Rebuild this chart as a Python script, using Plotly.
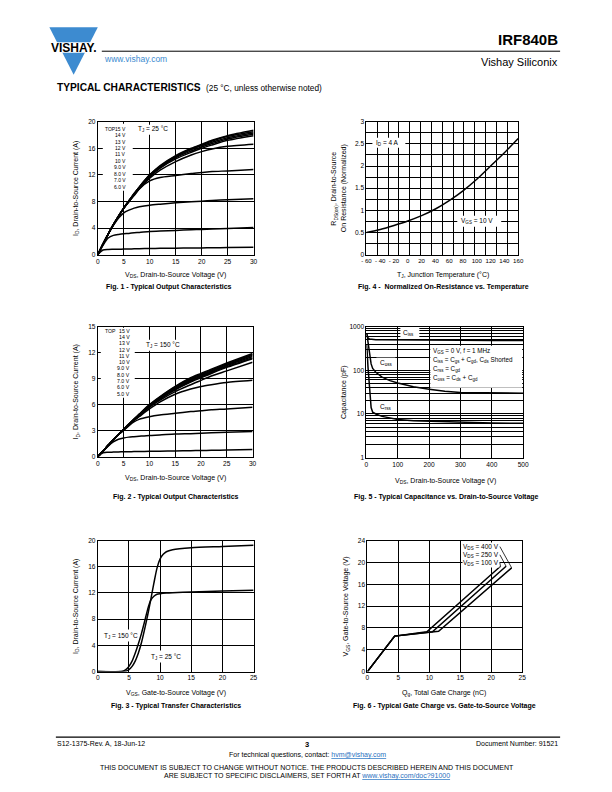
import plotly.graph_objects as go

# Page-to-figure mapping. The page body adds an 8 px margin; the captured
# picture came out slightly shrunk, so positions are corrected linearly.
OFF = 8
W, H = 612 - 2 * OFF, 792 - 2 * OFF
SX, CX = 0.983, 3.2
SY, CY = 0.9912, 4.35
FONT = "Liberation Sans, Arial, sans-serif"
BLUE = "#3d8bd0"


def px(x):
    return ((x - CX) / SX - OFF) / W


def py(y):
    return 1 - ((y - CY) / SY - OFF) / H


# ---------------- DATA ----------------
# Fig. 1 - output characteristics, TJ = 25 C
f1_vds = [0, 1, 2, 3, 4, 5, 6, 7, 8, 10, 12, 15, 18, 20, 22, 25, 30]
f1_vgs_labels = ["15 V", "14 V", "13 V", "12 V", "11 V", "10 V", "9.0 V", "8.0 V", "7.0 V", "6.0 V"]
f1_15v = [0, 1.6, 3.1, 4.5, 5.8, 7.0, 8.1, 9.2, 10.2, 12.0, 13.4, 14.9, 16.0, 16.6, 17.2, 17.9, 18.7]
f1_14v = [0, 1.6, 3.1, 4.5, 5.8, 7.0, 8.1, 9.2, 10.2, 12.0, 13.3, 14.8, 15.9, 16.5, 17.1, 17.8, 18.5]
f1_13v = [0, 1.6, 3.1, 4.5, 5.8, 7.0, 8.1, 9.1, 10.1, 11.9, 13.2, 14.7, 15.8, 16.4, 16.9, 17.6, 18.3]
f1_12v = [0, 1.6, 3.1, 4.5, 5.8, 7.0, 8.1, 9.1, 10.1, 11.8, 13.1, 14.6, 15.6, 16.2, 16.7, 17.4, 18.1]
f1_11v = [0, 1.6, 3.1, 4.5, 5.8, 7.0, 8.0, 9.0, 10.0, 11.7, 13.0, 14.4, 15.4, 16.0, 16.5, 17.2, 17.9]
f1_10v = [0, 1.6, 3.1, 4.5, 5.8, 7.0, 8.0, 9.0, 9.9, 11.5, 12.7, 14.0, 15.0, 15.5, 15.9, 16.3, 16.6]
f1_9v = [0, 1.6, 3.1, 4.5, 5.8, 7.0, 8.0, 8.9, 9.9, 11.1, 11.6, 11.9, 12.2, 12.35, 12.5, 12.6, 12.8]
f1_8v = [0, 1.6, 3.1, 4.4, 5.5, 6.3, 6.7, 7.0, 7.2, 7.45, 7.6, 7.8, 7.95, 8.05, 8.15, 8.25, 8.4]
f1_7v = [0, 1.4, 2.5, 2.9, 3.05, 3.15, 3.2, 3.3, 3.35, 3.5, 3.55, 3.65, 3.75, 3.8, 3.85, 3.95, 4.1]
f1_6v = [0, 0.7, 0.78, 0.8, 0.82, 0.84, 0.86, 0.88, 0.9, 0.92, 0.95, 0.98, 1.0, 1.02, 1.04, 1.07, 1.12]

# Fig. 2 - output characteristics, TJ = 150 C
f2_vds = [0, 1, 2, 3, 4, 5, 6, 7, 8, 10, 12, 15, 18, 20, 22, 25, 30]
f2_vgs_labels = ["15 V", "14 V", "13 V", "12 V", "11 V", "10 V", "9.0 V", "8.0 V", "7.0 V", "6.0 V", "5.0 V"]
f2_15v = [0, 0.65, 1.3, 1.95, 2.55, 3.15, 3.75, 4.35, 4.9, 6.0, 6.9, 8.1, 9.1, 9.6, 10.1, 10.8, 11.9]
f2_14v = [0, 0.65, 1.3, 1.95, 2.55, 3.15, 3.75, 4.3, 4.85, 5.95, 6.85, 8.05, 9.0, 9.5, 10.0, 10.7, 11.8]
f2_13v = [0, 0.65, 1.3, 1.95, 2.55, 3.1, 3.7, 4.3, 4.8, 5.9, 6.8, 8.0, 8.9, 9.4, 9.9, 10.6, 11.7]
f2_12v = [0, 0.65, 1.3, 1.95, 2.55, 3.1, 3.7, 4.25, 4.8, 5.85, 6.75, 7.9, 8.8, 9.3, 9.8, 10.5, 11.55]
f2_11v = [0, 0.65, 1.3, 1.95, 2.55, 3.1, 3.65, 4.2, 4.75, 5.8, 6.7, 7.8, 8.7, 9.2, 9.7, 10.4, 11.4]
f2_10v = [0, 0.65, 1.3, 1.95, 2.55, 3.1, 3.65, 4.2, 4.7, 5.75, 6.6, 7.7, 8.6, 9.1, 9.6, 10.3, 11.3]
f2_9v = [0, 0.65, 1.3, 1.95, 2.55, 3.1, 3.65, 4.2, 4.7, 5.7, 6.5, 7.5, 8.3, 8.8, 9.3, 9.9, 10.9]
f2_8v = [0, 0.65, 1.3, 1.95, 2.55, 3.1, 3.65, 4.15, 4.6, 5.5, 6.3, 7.2, 7.8, 8.1, 8.3, 8.55, 8.8]
f2_7v = [0, 0.65, 1.3, 1.95, 2.55, 3.05, 3.55, 4.0, 4.3, 4.6, 4.8, 5.0, 5.2, 5.3, 5.4, 5.5, 5.7]
f2_6v = [0, 0.6, 1.2, 1.7, 2.0, 2.15, 2.25, 2.3, 2.35, 2.45, 2.5, 2.6, 2.65, 2.7, 2.75, 2.8, 2.9]
f2_5v = [0, 0.45, 0.5, 0.52, 0.54, 0.56, 0.57, 0.58, 0.59, 0.61, 0.63, 0.66, 0.69, 0.71, 0.73, 0.76, 0.82]

# Fig. 3 - transfer characteristics
f3_vgs_150 = [0, 4, 4.5, 5, 5.5, 6, 6.5, 7, 7.5, 8, 8.5, 9, 9.5, 10, 11, 12, 15, 20, 25]
f3_id_150 = [0, 0.05, 0.3, 0.8, 1.6, 2.8, 4.2, 5.8, 7.6, 9.5, 10.9, 11.5, 11.8, 11.9, 12.0, 12.05, 12.15, 12.3, 12.4]
f3_vgs_25 = [0, 4.5, 5, 5.5, 6, 6.5, 7, 7.5, 8, 8.5, 9, 9.5, 10, 10.5, 11, 12, 15, 20, 25]
f3_id_25 = [0, 0.05, 0.3, 0.8, 1.6, 2.8, 4.4, 6.4, 8.6, 11.0, 13.5, 15.8, 17.2, 17.9, 18.3, 18.6, 18.9, 19.1, 19.3]

# Fig. 4 - normalized on-resistance vs temperature
f4_tj = [-60, -40, -20, 0, 20, 40, 60, 80, 100, 120, 140, 160]
f4_rds = [0.5, 0.57, 0.66, 0.76, 0.88, 1.03, 1.22, 1.44, 1.70, 2.0, 2.3, 2.62]
f4_tick_vals = [-60, -40, -20, 0, 20, 40, 60, 80, 100, 120, 140, 160]
f4_tick_text = ["- 60", "- 40", "- 20", "0", "20", "40", "60", "80", "100", "120", "140", "160"]

# Fig. 5 - capacitance vs VDS
f5_vds = [0, 2, 5, 10, 15, 20, 30, 50, 75, 100, 150, 200, 250, 300, 400, 500]
f5_ciss = [700, 600, 550, 520, 510, 505, 500, 500, 500, 495, 495, 490, 490, 485, 480, 480]
f5_coss = [700, 650, 450, 220, 140, 110, 90, 70, 58, 51, 42, 37, 33, 31, 30, 30]
f5_crss = [400, 300, 120, 30, 14, 11, 10, 8.8, 8, 7.5, 7, 6.8, 6.6, 6.4, 6.2, 6.1]

# Fig. 6 - gate charge
f6_qg_100 = [0, 4.4, 9.6, 21.5]
f6_vgs_100 = [0, 6.5, 7.3, 19.3]
f6_qg_250 = [0, 4.4, 10.5, 22.4]
f6_vgs_250 = [0, 6.5, 7.3, 19.3]
f6_qg_400 = [0, 4.4, 11.5, 23.3]
f6_vgs_400 = [0, 6.5, 7.4, 19.0]

# ---------------- FIGURE ----------------
fig = go.Figure()


def add_line(xs, ys, n, shape="spline", width=1.5):
    s = "" if n == 1 else str(n)
    fig.add_trace(go.Scatter(
        x=xs, y=ys, xaxis="x" + s, yaxis="y" + s, mode="lines",
        line=dict(color="black", width=width, shape=shape, smoothing=0.7),
        showlegend=False, hoverinfo="skip"))


for ys in [f1_6v, f1_7v, f1_8v, f1_9v, f1_10v, f1_11v, f1_12v, f1_13v, f1_14v, f1_15v]:
    add_line(f1_vds, ys, 1)
add_line(f4_tj, f4_rds, 2)
for ys in [f2_5v, f2_6v, f2_7v, f2_8v, f2_9v, f2_10v, f2_11v, f2_12v, f2_13v, f2_14v, f2_15v]:
    add_line(f2_vds, ys, 3)
for ys in [f5_ciss, f5_coss, f5_crss]:
    add_line(f5_vds, ys, 4, shape="linear")
add_line(f3_vgs_150, f3_id_150, 5)
add_line(f3_vgs_25, f3_id_25, 5)
add_line(f6_qg_100, f6_vgs_100, 6, shape="linear")
add_line(f6_qg_250, f6_vgs_250, 6, shape="linear")
add_line(f6_qg_400, f6_vgs_400, 6, shape="linear")

# plot boxes in page pixels: (left, right, top, bottom)
boxes = {
    1: (96, 252, 122, 255),
    2: (365, 517, 122, 255),
    3: (96, 251, 327, 457),
    4: (365, 522, 327, 458),
    5: (96, 252, 541, 672),
    6: (366, 521, 541, 672),
}

layout = dict(
    width=W, height=H, margin=dict(l=0, r=0, t=0, b=0),
    paper_bgcolor="white", plot_bgcolor="white", showlegend=False,
)


def axis_common():
    return dict(showline=True, linecolor="black", linewidth=1, mirror=True,
                showgrid=True, gridcolor="black", gridwidth=0.9, zeroline=False,
                ticks="", tickangle=0, tickfont=dict(family=FONT, size=6.6, color="black"),
                fixedrange=True)


for i, (x0, x1, y0, y1) in boxes.items():
    s = "" if i == 1 else str(i)
    xa = axis_common()
    xa.update(domain=[px(x0), px(x1)], anchor="y" + s)
    ya = axis_common()
    ya.update(domain=[py(y1), py(y0)], anchor="x" + s)
    layout["xaxis" + s] = xa
    layout["yaxis" + s] = ya

layout["xaxis"].update(range=[0, 30], dtick=5, tick0=0)
layout["yaxis"].update(range=[0, 20], dtick=4, tick0=0)

layout["xaxis2"].update(range=[-60, 160], tickmode="array", tickvals=f4_tick_vals,
                        ticktext=f4_tick_text, showgrid=False,
                        tickfont=dict(family=FONT, size=6.1, color="black"),
                        minor=dict(tick0=-60, dtick=220 / 14, showgrid=True,
                                   gridcolor="black", gridwidth=0.9, ticks=""))
layout["yaxis2"].update(range=[0, 3], dtick=0.5, tick0=0,
                        minor=dict(tick0=0, dtick=0.25, showgrid=True,
                                   gridcolor="black", gridwidth=0.9, ticks=""))

layout["xaxis3"].update(range=[0, 30], dtick=5, tick0=0)
layout["yaxis3"].update(range=[0, 15], dtick=3, tick0=0)

layout["xaxis4"].update(range=[0, 500], dtick=100, tick0=0)
layout["yaxis4"].update(type="log", range=[0, 3], dtick=1, gridwidth=0.8,
                        minor=dict(dtick="D1", showgrid=True, gridcolor="black",
                                   gridwidth=0.8, ticks=""))

layout["xaxis5"].update(range=[0, 25], dtick=5, tick0=0)
layout["yaxis5"].update(range=[0, 20], dtick=4, tick0=0)

layout["xaxis6"].update(range=[0, 25], dtick=5, tick0=0)
layout["yaxis6"].update(range=[0, 24], dtick=4, tick0=0)

fig.update_layout(**layout)

anns = []
shapes = []


def text(x, y, s, size=7, xanchor="center", yanchor="middle", color="black", angle=0,
         bg=None, align="left"):
    d = dict(x=px(x), y=py(y), xref="paper", yref="paper", text=s, showarrow=False,
             xanchor=xanchor, yanchor=yanchor, textangle=angle, align=align,
             font=dict(family=FONT, size=size, color=color), borderpad=0)
    if bg:
        d["bgcolor"] = bg
    anns.append(d)


def white_box(x0, y0, x1, y1):
    shapes.append(dict(type="rect", xref="paper", yref="paper", x0=px(x0), x1=px(x1),
                       y0=py(y1), y1=py(y0), fillcolor="white", line=dict(width=0),
                       layer="above"))


# ---- header ----
shapes.append(dict(type="path", xref="paper", yref="paper",
                   path=f"M {px(47.5)} {py(27.5)} L {px(96)} {py(27.5)} L {px(71.8)} {py(75)} Z",
                   fillcolor=BLUE, line=dict(width=0), layer="above"))
shapes.append(dict(type="rect", xref="paper", yref="paper", x0=px(44), x1=px(99),
                   y0=py(53), y1=py(42.5), fillcolor="white", line=dict(width=0), layer="above"))
text(71.8, 48, "<b>VISHAY.</b>", size=12)
shapes.append(dict(type="line", xref="paper", yref="paper", x0=px(100), x1=px(559),
                   y0=py(51.5), y1=py(51.5), line=dict(color="black", width=1)))
text(558, 40, "<b>IRF840B</b>", size=15, xanchor="right")
text(101, 59.5, "www.vishay.com", size=8.5, xanchor="left", color=BLUE)
text(558, 62, "Vishay Siliconix", size=11, xanchor="right")
text(54, 88, "<b>TYPICAL CHARACTERISTICS</b>", size=10.2, xanchor="left")
text(203, 88.5, "(25 °C, unless otherwise noted)", size=8.3, xanchor="left")

# ---- footer ----
shapes.append(dict(type="line", xref="paper", yref="paper", x0=px(54), x1=px(559),
                   y0=py(737.5), y1=py(737.5), line=dict(color="black", width=1.2)))
text(54, 744, "S12-1375-Rev. A, 18-Jun-12", size=7, xanchor="left")
text(306, 745, "<b>3</b>", size=7.5)
text(558, 744, "Document Number: 91521", size=7, xanchor="right")
text(306, 755.5, 'For technical questions, contact: <span style="color:#1f6fc0"><u>hvm@vishay.com</u></span>', size=7)
text(306, 767.5, "THIS DOCUMENT IS SUBJECT TO CHANGE WITHOUT NOTICE. THE PRODUCTS DESCRIBED HEREIN AND THIS DOCUMENT", size=7)
text(306, 776.5, 'ARE SUBJECT TO SPECIFIC DISCLAIMERS, SET FORTH AT <span style="color:#1f6fc0"><u>www.vishay.com/doc?91000</u></span>', size=7)

# ---- Fig 1 ----
white_box(101, 124, 131, 191)
white_box(133, 125, 173, 135)
text(102, 129, "TOP", size=5.0, xanchor="left")
for k, lbl in enumerate(f1_vgs_labels):
    text(125.5, 129 + k * 6.44, lbl, size=5.0, xanchor="right")
text(135.5, 129.5, "T<sub>J</sub> = 25 °C", size=6.5, xanchor="left")
text(74, 188.5, "I<sub>D</sub>, Drain-to-Source Current (A)", size=7, angle=-90)
text(174, 275.5, "V<sub>DS</sub>, Drain-to-Source Voltage (V)", size=7)
text(167, 287.5, "<b>Fig. 1 - Typical Output Characteristics</b>", size=7)

# ---- Fig 4 ----
white_box(371, 138, 404, 148)
white_box(456, 216, 500, 227)
text(374, 143.5, "I<sub>D</sub> = 4 A", size=6.5, xanchor="left")
text(459, 221.5, "V<sub>GS</sub> = 10 V", size=6.5, xanchor="left")
text(333, 188.5, "R<sub>DS(on)</sub>, Drain-to-Source", size=7, angle=-90)
text(342.5, 188.5, "On Resistance (Normalized)", size=7, angle=-90)
text(442, 275.5, "T<sub>J</sub>, Junction Temperature (°C)", size=7)
text(442, 287.5, "<b>Fig. 4 -  Normalized On-Resistance vs. Temperature</b>", size=7)

# ---- Fig 2 ----
white_box(99, 328, 133, 398)
white_box(140, 340, 180, 351)
text(102.5, 331, "TOP", size=5.2, xanchor="left")
for k, lbl in enumerate(f2_vgs_labels):
    text(129, 331 + k * 6.3, lbl, size=5.2, xanchor="right")
text(143, 345.5, "T<sub>J</sub> = 150 °C", size=6.5, xanchor="left")
text(74, 392, "I<sub>D</sub>, Drain-to-Source Current (A)", size=7, angle=-90)
text(174, 478.5, "V<sub>DS</sub>, Drain-to-Source Voltage (V)", size=7)
text(174, 497.5, "<b>Fig. 2 - Typical Output Characteristics</b>", size=7)

# ---- Fig 5 ----
white_box(399, 328, 418, 339)
white_box(375, 358, 394, 369)
white_box(375, 402, 394, 413)
white_box(429, 346, 521, 388)
text(401, 333, "C<sub>iss</sub>", size=6.5, xanchor="left")
text(377.5, 363.5, "C<sub>oss</sub>", size=6.5, xanchor="left")
text(378, 407.5, "C<sub>rss</sub>", size=6.5, xanchor="left")
text(430.5, 351.5, "V<sub>GS</sub> = 0 V, f = 1 MHz", size=6.3, xanchor="left")
text(430.5, 360.5, "C<sub>iss</sub> = C<sub>gs</sub> + C<sub>gd</sub>, C<sub>ds</sub> Shorted", size=6.3, xanchor="left")
text(430.5, 369.5, "C<sub>rss</sub> = C<sub>gd</sub>", size=6.3, xanchor="left")
text(430.5, 378.5, "C<sub>oss</sub> = C<sub>ds</sub> + C<sub>gd</sub>", size=6.3, xanchor="left")
text(342, 392, "Capacitance (pF)", size=7, angle=-90)
text(444, 481.5, "V<sub>DS</sub>, Drain-to-Source Voltage (V)", size=7)
text(445, 497.5, "<b>Fig. 5 - Typical Capacitance vs. Drain-to-Source Voltage</b>", size=7)

# ---- Fig 3 ----
white_box(99, 630, 133, 642)
white_box(145, 651, 179, 663)
text(101, 636, "T<sub>J</sub> = 150 °C", size=6.5, xanchor="left")
text(148, 657, "T<sub>J</sub> = 25 °C", size=6.5, xanchor="left")
text(74, 606.5, "I<sub>D</sub>, Drain-to-Source Current (A)", size=7, angle=-90)
text(174, 693.5, "V<sub>GS</sub>, Gate-to-Source Voltage (V)", size=7)
text(174, 706.5, "<b>Fig. 3 - Typical Transfer Characteristics</b>", size=7)

# ---- Fig 6 ----
for lbl, yv, qx, vy in [("400 V", 22.9, f6_qg_400[-1], f6_vgs_400[-1]),
                        ("250 V", 21.4, f6_qg_250[-1], f6_vgs_250[-1]),
                        ("100 V", 19.9, f6_qg_100[-1], f6_vgs_100[-1])]:
    anns.append(dict(x=qx, y=vy, xref="x6", yref="y6", ax=21.4, ay=yv, axref="x6", ayref="y6",
                     text="V<sub>DS</sub> = " + lbl, showarrow=True, arrowhead=0,
                     arrowwidth=0.8, arrowcolor="black", xanchor="right", yanchor="middle",
                     bgcolor="white", borderpad=0, standoff=0,
                     font=dict(family=FONT, size=6.5, color="black")))
text(345, 606.5, "V<sub>GS</sub>, Gate-to-Source Voltage (V)", size=7, angle=-90)
text(443, 693.5, "Q<sub>g</sub>, Total Gate Charge (nC)", size=7)
text(443, 706.5, "<b>Fig. 6 - Typical Gate Charge vs. Gate-to-Source Voltage</b>", size=7)

fig.update_layout(annotations=anns, shapes=shapes)
fig.write_html("out.html")
